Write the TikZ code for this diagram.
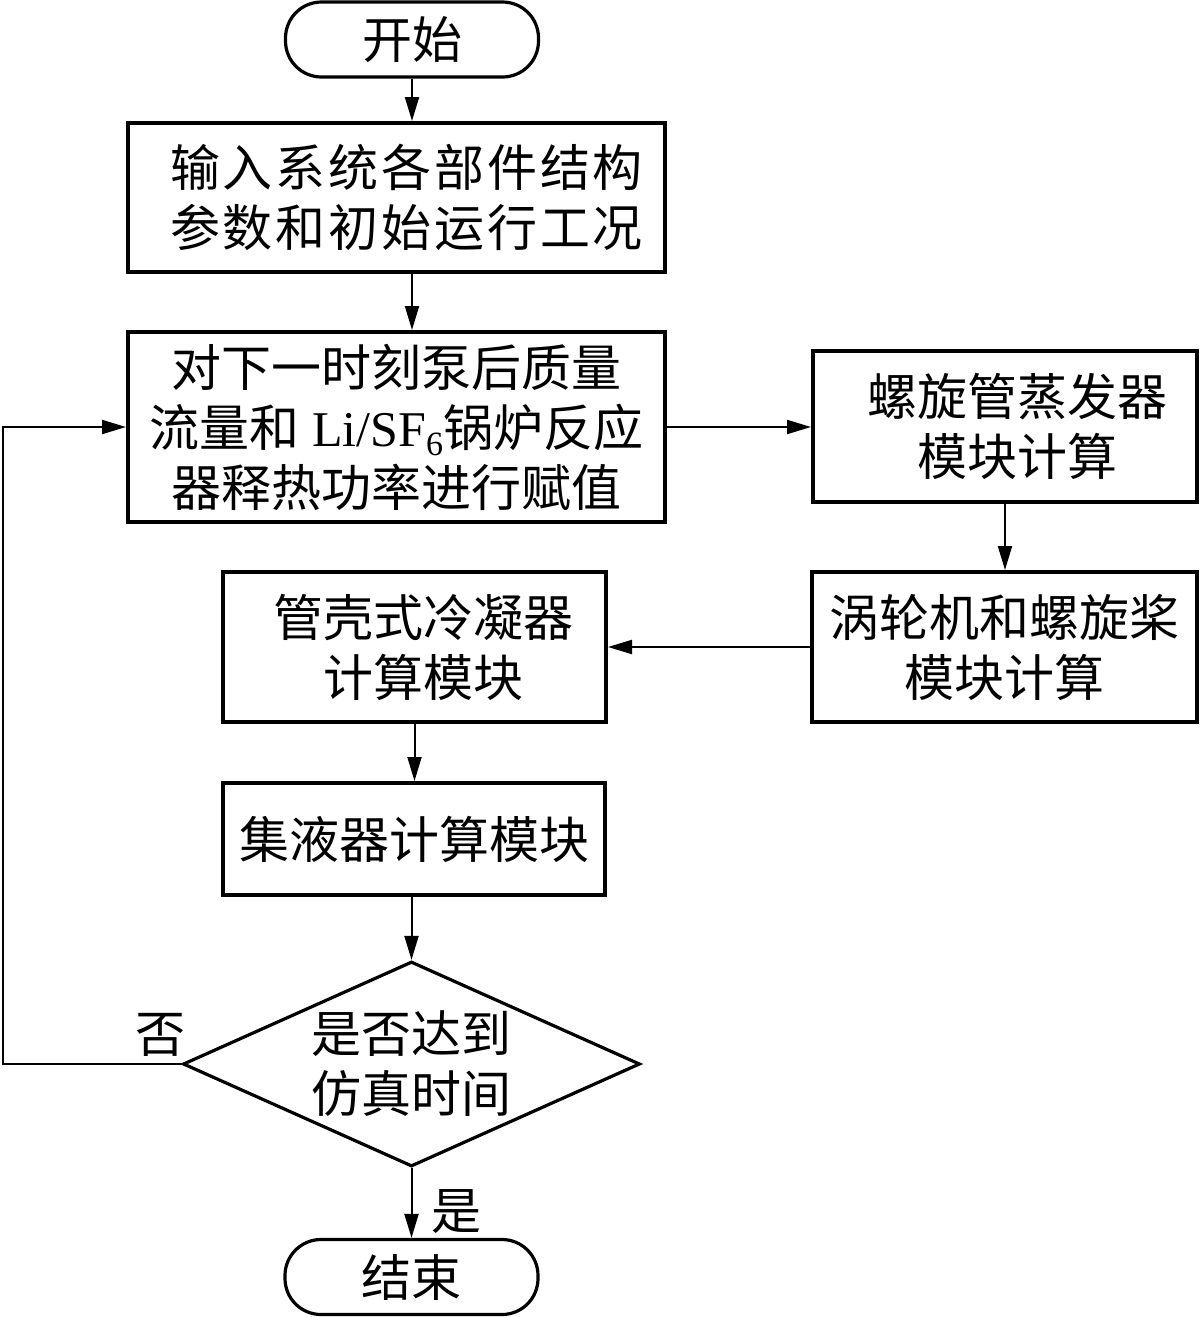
\documentclass[tikz,border=0pt]{standalone}
\usepackage{fontspec}
\setmainfont{Noto Sans CJK SC}
\newfontfamily\latinf{Liberation Serif}
\usetikzlibrary{arrows.meta,shapes.geometric}
\newcommand{\bigtxt}{\fontsize{25}{30}\selectfont}
\tikzset{
  box/.style={draw, line width=2pt, rectangle, align=center, inner sep=0pt, font=\bigtxt},
  term/.style={draw, line width=1.6pt, rectangle, rounded corners=18pt, align=center, inner sep=0pt,
    minimum width=126.5pt, minimum height=37.5pt, font=\bigtxt},
  dec/.style={diamond, draw, line width=1.6pt, aspect=2.23, inner sep=0pt, align=center,
    minimum width=228.5pt, minimum height=102.5pt, font=\bigtxt},
  arr/.style={-{Triangle[length=12pt,width=7pt]}, line width=1pt},
  lab/.style={inner sep=0pt, font=\bigtxt}
}
\begin{document}
\begin{tikzpicture}[x=0.5pt,y=-0.5pt]
\useasboundingbox (0,0) rectangle (1200,1318);
\node[term] (start) at (412,39.5) {开始};
\node[box, minimum width=268.5pt, minimum height=74.5pt] (b1) at (396.5,197.5)
  {\hspace*{10pt}\addfontfeature{LetterSpace=5.7}输入系统各部件结构\\\hspace*{10pt}\addfontfeature{LetterSpace=5.7}参数和初始运行工况};
\node[box, minimum width=268.5pt, minimum height=95pt] (b2) at (396.5,427)
  {对下一时刻泵后质量\\流量和{\latinf\ Li/SF\raisebox{-0.4ex}{\fontsize{17}{17}\selectfont 6}}锅炉反应\\器释热功率进行赋值};
\node[box, minimum width=192pt, minimum height=75.5pt] (b3) at (1005,426.5)
  {\hspace*{12pt}螺旋管蒸发器\\\hspace*{12pt}模块计算};
\node[box, minimum width=192.5pt, minimum height=75pt] (b4) at (1004.5,647)
  {涡轮机和螺旋桨\\模块计算};
\node[box, minimum width=191.5pt, minimum height=75pt] (b5) at (414.5,647)
  {\hspace*{9pt}管壳式冷凝器\\\hspace*{9pt}计算模块};
\node[box, minimum width=191pt, minimum height=56pt] (b6) at (414,839)
  {集液器计算模块};
\node[dec] (d) at (411.5,1064) {是否达到\\仿真时间};
\node[term] (end) at (411.5,1277) {结束};
\coordinate (lp) at (3,0);
\node[lab] (no) at (160,1035) {否};
\node[lab] (yes) at (456,1212) {是};

\draw[arr] (start.south) -- (start.south |- b1.north);
\draw[arr] (start.south |- b1.south) -- (start.south |- b2.north);
\draw[arr] (b2.east) -- (b2.east -| b3.west);
\draw[arr] (b3.south) -- (b3.south |- b4.north);
\draw[arr] (b4.west) -- (b4.west -| b5.east);
\draw[arr] (b5.south) -- (b5.south |- b6.north);
\draw[arr] (d.north |- b6.south) -- (d.north);
\draw[arr] (d.south) -- (end.north);
\draw[arr] (d.west) -- (d.west -| lp) -- (lp |- b2.west) -- (b2.west);
\end{tikzpicture}
\end{document}
